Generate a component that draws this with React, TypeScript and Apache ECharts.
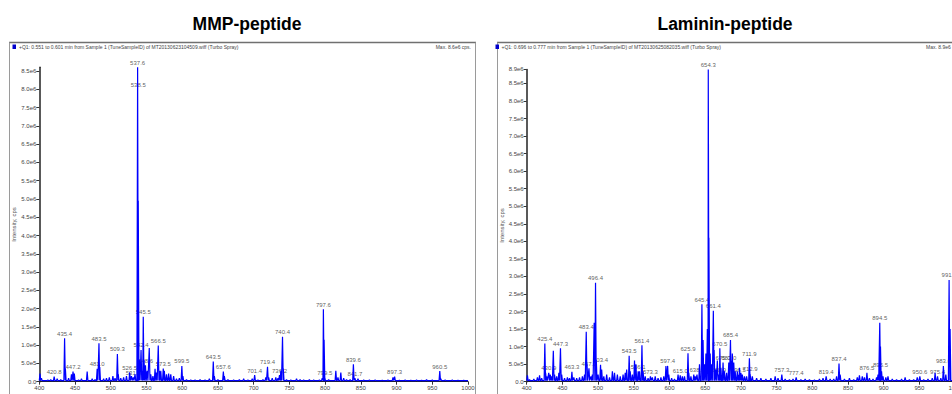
import React, { useEffect, useRef } from "react";
import * as echarts from "echarts";

// Peak lists: [m/z, intensity in 1e6 cps]
const peaksMMP: [number, number][] = [
  [401, 0.22], [403, 0.1], [412, 0.05], [416, 0.06], [420.8, 0.14], [425, 0.08], [430, 0.06],
  [435.4, 1.19], [436.5, 0.35], [441, 0.1], [445, 0.2], [447.2, 0.28], [449, 0.22], [455, 0.05],
  [459, 0.08], [467, 0.28], [474, 0.08], [478, 0.06], [481.0, 0.35], [483.5, 1.05], [484.6, 0.4],
  [490, 0.08], [494, 0.1], [498, 0.12], [503, 0.15], [506, 0.1], [509.3, 0.76], [510.5, 0.2],
  [514, 0.1], [518, 0.12], [522, 0.15], [526.5, 0.26], [529, 0.15], [531.5, 0.12], [534, 0.2],
  [537.6, 8.6], [538.5, 4.95], [540, 0.6], [542.4, 0.87], [543.8, 0.3], [545.5, 1.78], [546.6, 0.6],
  [548.6, 0.45], [551, 0.3], [553.9, 0.92], [556, 0.2], [559, 0.15], [562, 0.35], [564, 0.25],
  [566.5, 0.99], [568, 0.3], [570, 0.3], [573.5, 0.36], [575, 0.3], [578, 0.2], [581, 0.22],
  [584, 0.2], [588, 0.15], [592, 0.08], [596, 0.1], [599.5, 0.43], [601, 0.15], [606, 0.06],
  [612, 0.05], [618, 0.05], [625, 0.06], [632, 0.05], [638, 0.08], [643.5, 0.55], [645, 0.15],
  [650, 0.06], [657.6, 0.28], [659, 0.15], [664, 0.06], [672, 0.05], [680, 0.06], [686, 0.08],
  [692, 0.05], [698, 0.08], [701.4, 0.18], [706, 0.05], [713, 0.06], [717, 0.12], [719.4, 0.41],
  [721, 0.12], [726, 0.1], [731, 0.12], [734, 0.1], [736.2, 0.18], [738, 0.3], [740.4, 1.23],
  [741.5, 0.35], [746, 0.06], [752, 0.05], [760, 0.08], [765, 0.06], [770, 0.05], [778, 0.06],
  [784, 0.05], [792, 0.05], [796, 0.1], [797.6, 1.98], [798.6, 1.15], [799.5, 0.12], [805, 0.06],
  [815, 0.3], [818, 0.12], [822, 0.25], [826, 0.1], [830, 0.06], [835, 0.06], [839.6, 0.48],
  [841.7, 0.1], [846, 0.08], [854, 0.05], [862, 0.05], [870, 0.05], [880, 0.04], [888, 0.05],
  [895, 0.12], [897.3, 0.14], [904, 0.04], [912, 0.05], [920, 0.04], [928, 0.05], [935, 0.04],
  [942, 0.06], [950, 0.05], [960.5, 0.29], [962, 0.08], [968, 0.05], [978, 0.05], [986, 0.04],
  [994, 0.04],
];

// Peak annotations: [m/z, anchor intensity in 1e6 cps]
const labelsMMP: [number, number][] = [
  [420.8, 0.14], [435.4, 1.19], [447.2, 0.28], [481.0, 0.35], [483.5, 1.05], [509.3, 0.76],
  [526.5, 0.26], [531.5, 0.12], [537.6, 8.6], [538.5, 8.0], [542.4, 0.87], [545.5, 1.78],
  [548.6, 0.45], [566.5, 0.99], [573.5, 0.36], [599.5, 0.43], [643.5, 0.55], [657.6, 0.28],
  [701.4, 0.18], [719.4, 0.41], [736.2, 0.18], [740.4, 1.23], [797.6, 1.98], [799.5, 0.12],
  [839.6, 0.48], [841.7, 0.1], [897.3, 0.14], [960.5, 0.29],
];

const peaksLam: [number, number][] = [
  [401, 0.18], [404, 0.06], [410, 0.08], [415, 0.12], [418, 0.18], [421, 0.1], [425.4, 1.09],
  [426.5, 0.25], [428, 0.15], [430.9, 0.25], [433, 0.2], [435, 0.15], [437.3, 0.88], [439, 0.2],
  [442, 0.15], [445, 0.25], [447.3, 0.95], [449, 0.2], [453, 0.1], [457, 0.12], [460, 0.1],
  [463.3, 0.28], [466, 0.12], [470, 0.1], [474, 0.12], [478, 0.15], [481, 0.2], [483.4, 1.42],
  [484.5, 0.5], [487.2, 0.38], [490, 0.15], [492, 0.2], [494.5, 1.68], [496.4, 2.82], [497.5, 0.6],
  [500, 0.2], [503.4, 0.48], [505, 0.35], [508, 0.15], [512, 0.2], [516, 0.12], [520, 0.3],
  [523, 0.25], [527, 0.2], [531, 0.15], [535, 0.2], [538, 0.25], [540, 0.35], [543.5, 0.74],
  [545, 0.3], [548, 0.2], [551, 0.6], [553, 0.5], [556.1, 0.3], [558, 0.3], [561.4, 1.04],
  [563, 0.3], [566, 0.15], [570, 0.1], [573.3, 0.15], [576, 0.12], [580, 0.15], [584, 0.1],
  [588, 0.12], [592, 0.15], [595, 0.45], [597.4, 0.45], [599, 0.2], [603, 0.1], [607, 0.08],
  [612, 0.2], [615, 0.18], [618, 0.15], [621, 0.15], [625.9, 0.81], [627, 0.25], [630, 0.15],
  [634, 0.2], [636, 0.15], [638.5, 0.2], [642, 0.5], [645.4, 2.21], [647, 1.19], [649, 0.5],
  [651, 0.8], [653, 1.5], [654.3, 8.9], [655.2, 4.1], [657, 0.8], [659, 0.5], [661.4, 2.02],
  [662.5, 0.9], [664.6, 0.35], [667, 0.6], [668.9, 0.2], [670.5, 0.95], [672, 0.4], [675, 0.55],
  [677, 0.3], [680, 0.25], [683, 0.55], [685.4, 1.19], [686.5, 0.6], [688, 0.8], [690, 0.55],
  [692, 0.3], [695, 0.3], [696.5, 0.2], [698, 0.4], [700, 0.25], [702, 0.2], [705, 0.15],
  [708, 0.15], [711.9, 0.67], [712.9, 0.22], [716, 0.15], [722, 0.1], [728, 0.1], [735, 0.08],
  [742, 0.1], [748, 0.15], [752, 0.1], [757.3, 0.2], [762, 0.08], [768, 0.06], [773, 0.08],
  [777.4, 0.12], [784, 0.06], [790, 0.08], [796, 0.06], [803, 0.05], [810, 0.08], [815, 0.1],
  [819.4, 0.15], [825, 0.08], [830, 0.08], [834, 0.15], [837.4, 0.52], [839, 0.2], [845, 0.08],
  [852, 0.1], [858, 0.06], [863, 0.12], [866, 0.18], [870, 0.15], [873, 0.12], [876.5, 0.25],
  [880, 0.1], [885, 0.08], [890, 0.12], [892, 0.2], [894.5, 1.68], [895.5, 1.0], [897, 0.3],
  [899, 0.15], [903, 0.12], [906, 0.15], [912, 0.08], [918, 0.06], [925, 0.08], [930, 0.12],
  [936, 0.06], [942, 0.06], [947, 0.12], [950.6, 0.15], [956, 0.06], [962, 0.08], [968, 0.1],
  [972, 0.25], [975.4, 0.15], [980, 0.1], [983.6, 0.45], [987, 0.2], [991.6, 2.9], [993, 1.5],
];

const labelsLam: [number, number][] = [
  [425.4, 1.09], [430.9, 0.25], [447.3, 0.95], [463.3, 0.28], [483.4, 1.42], [487.2, 0.38],
  [496.4, 2.82], [503.4, 0.48], [543.5, 0.74], [556.1, 0.3], [561.4, 1.04], [573.3, 0.15],
  [597.4, 0.45], [615.0, 0.18], [625.9, 0.81], [638.5, 0.2], [645.4, 2.21], [654.3, 8.9],
  [661.4, 2.02], [668.9, 0.2], [670.5, 0.95], [675.0, 0.55], [683.0, 0.55], [685.4, 1.19],
  [696.5, 0.2], [711.9, 0.67], [712.9, 0.22], [757.3, 0.2], [777.4, 0.12], [819.4, 0.15],
  [837.4, 0.52], [876.5, 0.25], [894.5, 1.68], [895.5, 0.35], [950.6, 0.15], [975.4, 0.15],
  [983.6, 0.45], [991.6, 2.9],
];

const titles = ["MMP-peptide", "Laminin-peptide"];
const headers = [
  "+Q1: 0.551 to 0.601 min from Sample 1 (TuneSampleID) of MT20130623104509.wiff (Turbo Spray)",
  "+Q1: 0.696 to 0.777 min from Sample 1 (TuneSampleID) of MT20130625082035.wiff (Turbo Spray)",
];
const maxTexts = ["Max. 8.6e6 cps.", "Max. 8.9e6 cps."];
const yMax = [8.6, 8.9];
const xRange = [400, 1000];
const BASE = 0.03;
const HALF_WIDTH = 1.0;

function profile(peaks: [number, number][]): [number, number][] {
  const sorted = [...peaks].sort((a, b) => a[0] - b[0]);
  const pts: [number, number][] = [[xRange[0], BASE]];
  for (const [m, h] of sorted) {
    pts.push([m - HALF_WIDTH, BASE], [m, h], [m + HALF_WIDTH, BASE]);
  }
  pts.push([xRange[1], BASE]);
  return pts;
}

const FONT = "Liberation Sans";

function yFmt(v: number) {
  if (v === 0) return "0.0";
  if (v >= 1) return v.toFixed(1) + "e6";
  return (v * 10).toFixed(1) + "e5";
}

export default function App() {
  const ref = useRef<HTMLDivElement>(null);
  useEffect(() => {
    if (!ref.current) return;
    const chart = echarts.init(ref.current, undefined, { renderer: "svg" });
    const grids = [
      {
        left: 39.3, top: 381.7 - yMax[0] * 36.55, width: 428.7, height: yMax[0] * 36.55,
        outerBoundsMode: "none", containLabel: false,
      },
      {
        left: 526.7, top: 381.7 - yMax[1] * 35.09, width: 428.4, height: yMax[1] * 35.09,
        outerBoundsMode: "none", containLabel: false,
      },
    ];
    const xAxes = [0, 1].map((i) => ({
      type: "value",
      gridIndex: i,
      min: xRange[0],
      max: xRange[1],
      interval: 50,
      name: "m/z, Da",
      nameLocation: "middle",
      nameGap: 10,
      nameTextStyle: { fontSize: 6, color: "#555", fontFamily: FONT },
      axisLine: { lineStyle: { color: "#222", width: 1.2 } },
      axisTick: { show: true, length: 3, lineStyle: { color: "#333" } },
      axisLabel: {
        fontSize: 6, color: "#444", margin: 3, fontFamily: FONT,
        formatter: (v: number) => String(v),
      },
      splitLine: { show: false },
    }));
    const yAxes = [0, 1].map((i) => ({
      type: "value",
      gridIndex: i,
      min: 0,
      max: yMax[i],
      interval: 0.5,
      name: "Intensity, cps",
      nameLocation: "middle",
      nameRotate: 90,
      nameGap: 22,
      nameTextStyle: { fontSize: 6, color: "#555", fontFamily: FONT },
      axisLine: { show: true, lineStyle: { color: "#222", width: 1.5 } },
      axisTick: { show: true, length: 3, lineStyle: { color: "#333" } },
      axisLabel: {
        fontSize: 6,
        color: "#444",
        margin: 3,
        fontFamily: FONT,
        formatter: yFmt,
        showMaxLabel: i === 1,
      },
      splitLine: { show: false },
    }));
    const peakSets = [peaksMMP, peaksLam];
    const labelSets = [labelsMMP, labelsLam];
    const series: any[] = [];
    [0, 1].forEach((i) => {
      series.push({
        type: "line",
        xAxisIndex: i,
        yAxisIndex: i,
        data: profile(peakSets[i]),
        symbol: "none",
        showSymbol: false,
        silent: true,
        lineStyle: { color: "#0000ff", width: 1.2 },
      });
      series.push({
        type: "scatter",
        xAxisIndex: i,
        yAxisIndex: i,
        data: labelSets[i],
        symbolSize: 1,
        silent: true,
        itemStyle: { color: "rgba(0,0,0,0)" },
        label: {
          show: true,
          position: "top",
          distance: 1,
          fontSize: 6,
          color: "#333",
          fontFamily: FONT,
          formatter: (p: any) => p.value[0].toFixed(1),
        },
      });
    });
    const panels = [
      { left: 9.5, right: 475.5, sq: 12.5, text: 19, maxX: 471, maxAlign: "right", titleX: 247 },
      { left: 497.5, right: 1000, sq: 495.5, text: 501.5, maxX: 926, maxAlign: "left", titleX: 725 },
    ];
    const graphic: any[] = [];
    panels.forEach((p, i) => {
      graphic.push(
        {
          type: "text",
          x: p.titleX,
          y: 24,
          style: {
            text: titles[i],
            fontSize: 17.5,
            fontWeight: "bold",
            fontFamily: FONT,
            fill: "#000",
            align: "center",
            verticalAlign: "middle",
          },
        },
        {
          type: "line",
          shape: { x1: p.left - 0.5, y1: 42.5, x2: p.right + 0.5, y2: 42.5 },
          style: { stroke: "#707070", lineWidth: 1.6 },
        },
        {
          type: "line",
          shape: { x1: p.left, y1: 42.5, x2: p.left, y2: 400 },
          style: { stroke: "#9a9a9a", lineWidth: 1 },
        },
        {
          type: "line",
          shape: { x1: p.right, y1: 42.5, x2: p.right, y2: 400 },
          style: { stroke: "#9a9a9a", lineWidth: 1 },
        },
        {
          type: "rect",
          shape: { x: p.sq, y: 44.5, width: 3.5, height: 4.5 },
          style: { fill: "#0000cc" },
        },
        {
          type: "text",
          x: p.text,
          y: 47,
          style: {
            text: headers[i],
            fontSize: 5,
            fontFamily: FONT,
            fill: "#444",
            align: "left",
            verticalAlign: "middle",
          },
        },
        {
          type: "text",
          x: p.maxX,
          y: 47,
          style: {
            text: maxTexts[i],
            fontSize: 5,
            fontFamily: FONT,
            fill: "#444",
            align: p.maxAlign,
            verticalAlign: "middle",
          },
        }
      );
    });
    chart.setOption({
      animation: false,
      textStyle: { fontFamily: FONT },
      grid: grids,
      xAxis: xAxes,
      yAxis: yAxes,
      series,
      graphic,
    });
    return () => chart.dispose();
  }, []);
  return (
    <div
      ref={ref}
      style={{ position: "fixed", left: 0, top: 0, width: 952, height: 394, background: "#fff" }}
    />
  );
}
